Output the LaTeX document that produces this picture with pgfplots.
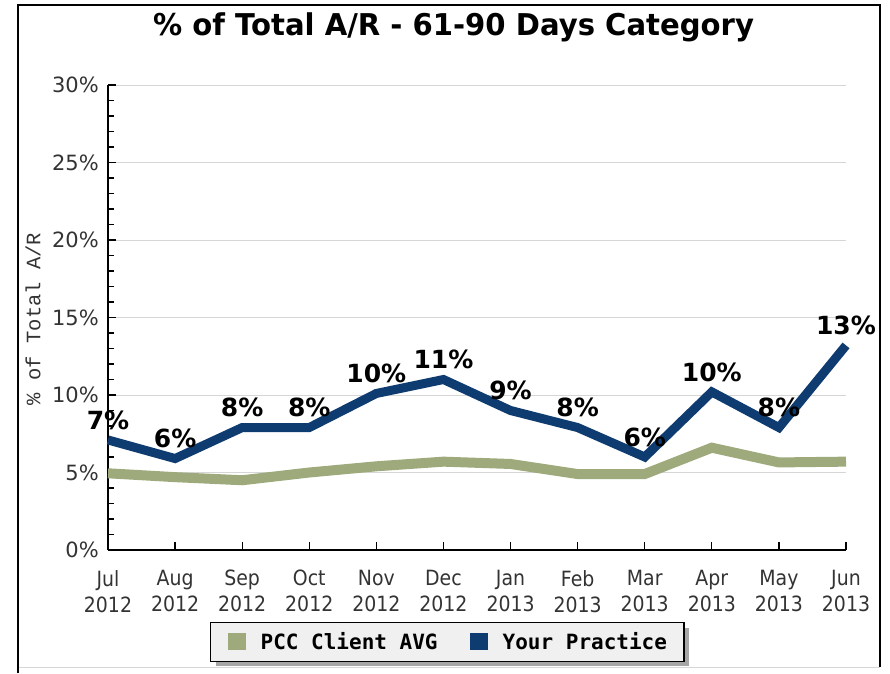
\documentclass[border=0pt]{standalone}
\usepackage{fontspec}
\usepackage{pgfplots}
\pgfplotsset{compat=1.18}
\usetikzlibrary{shadows}
\setmainfont{DejaVu Sans}
\newfontfamily\titlefont[FakeStretch=0.97]{DejaVu Sans}
\newfontfamily\xtickfont[FakeStretch=0.9]{DejaVu Sans}
\newfontfamily\legfont{DejaVu Sans Mono}
\newfontfamily\ylabfont{Liberation Mono}
\definecolor{pccgreen}{HTML}{9EAA7C}
\definecolor{practiceblue}{HTML}{0F3C70}
\definecolor{legfill}{HTML}{F0F0F0}
\definecolor{gridgray}{HTML}{D6D6D6}
\definecolor{ticktext}{HTML}{333333}

\pgfplotstableread{
x y
0 4.95
1 4.7
2 4.5
3 5.0
4 5.4
5 5.7
6 5.55
7 4.9
8 4.9
9 6.6
10 5.65
11 5.7
}\pcctable
\pgfplotstableread{
x y
0 7.1
1 5.9
2 7.9
3 7.9
4 10.1
5 11.0
6 9.0
7 7.9
8 6.0
9 10.2
10 7.9
11 13.2
}\practicetable

\begin{document}
\begin{tikzpicture}
\path[use as bounding box] (0pt,0pt) rectangle (890pt,673pt);
\fill[white] (0pt,0pt) rectangle (890pt,673pt);
\draw[gridgray, line width=1pt] (18pt,6pt) -- (880pt,6pt);
\draw[black, line width=2pt] (18pt,0pt) -- (18pt,668pt) -- (880pt,668pt) -- (880pt,6pt);
\begin{axis}[
  at={(108pt,123pt)}, anchor=south west,
  scale only axis, width=738pt, height=465pt,
  xmin=0, xmax=11, ymin=0, ymax=30,
  clip=false,
  /pgf/number format/assume math mode=true,
  axis lines*=left,
  axis line style={-, black, line width=1.5pt},
  tick style={black, line width=1.3pt},
  tick align=inside,
  major tick length=8pt, minor tick length=6pt,
  xtick={0,...,11},
  xticklabels={Jul\\2012,Aug\\2012,Sep\\2012,Oct\\2012,Nov\\2012,Dec\\2012,Jan\\2013,Feb\\2013,Mar\\2013,Apr\\2013,May\\2013,Jun\\2013},
  xticklabel style={font=\xtickfont\fontsize{21}{26}\selectfont, text=ticktext, align=center, anchor=north, inner sep=0pt, yshift=-20pt},
  ytick={0,5,...,30},
  minor y tick num=4,
  yticklabel={\pgfmathprintnumber{\tick}\%},
  yticklabel style={font=\fontsize{21}{25}\selectfont, text=ticktext, anchor=east, inner sep=0pt, xshift=-9pt},
  ymajorgrids,
  major grid style={gridgray, line width=1pt},
  ylabel={\% of Total A/R},
  every axis y label/.style={at={(axis description cs:-0.1016,0.497)}, rotate=90, anchor=center, font=\ylabfont\fontsize{20.5}{24}\selectfont, text=ticktext},
  title={\% of Total A/R - 61-90 Days Category},
  title style={at={(axis description cs:0.4682,1.1075)}, anchor=base, yshift=-6pt, inner sep=0pt, font=\titlefont\bfseries\fontsize{30}{36}\selectfont},
  legend columns=2,
  legend style={at={(axis description cs:0.1382,-0.1548)}, anchor=north west,
    draw=black, line width=1.3pt, fill=legfill,
    drop shadow={shadow xshift=5pt, shadow yshift=-5pt, fill=gray!70, opacity=1},
    inner xsep=17pt, inner ysep=10pt, column sep=0pt,
    font=\legfont\bfseries\fontsize{21}{25}\selectfont,
    nodes={inner sep=0pt, anchor=base west},
    /tikz/every even column/.append style={column sep=32pt}},
]
\addplot[pccgreen, line width=10pt, line join=miter, sharp plot,
  legend image code/.code={\pgfsetlinewidth{0pt}\node[fill=pccgreen, draw=none, line width=0pt, inner sep=0pt, minimum width=18pt, minimum height=17pt, anchor=south west] at (0pt,0pt) {};\path (33pt,0pt);}]
  table[x=x, y=y] {\pcctable};
\addlegendentry{PCC Client AVG}
\addplot[practiceblue, line width=9pt, line join=miter, sharp plot,
  nodes near coords={\pgfmathprintnumber[fixed,precision=0]{\pgfplotspointmeta}\%},
  nodes near coords style={font=\bfseries\fontsize{25}{30}\selectfont, text=black, anchor=south, inner sep=0pt, yshift=6pt},
  legend image code/.code={\pgfsetlinewidth{0pt}\node[fill=practiceblue, draw=none, line width=0pt, inner sep=0pt, minimum width=18pt, minimum height=17pt, anchor=south west] at (0pt,0pt) {};\path (33pt,0pt);}]
  table[x=x, y=y] {\practicetable};
\addlegendentry{Your Practice}
\end{axis}
\end{tikzpicture}
\end{document}
